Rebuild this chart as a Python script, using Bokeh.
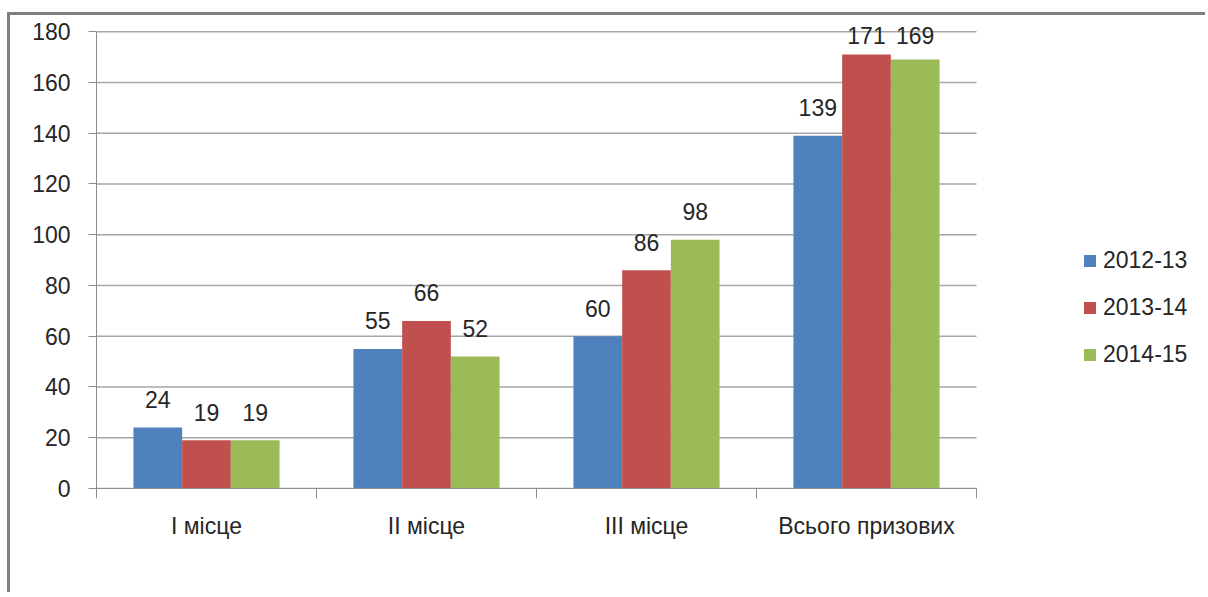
from bokeh.plotting import figure
from bokeh.models import ColumnDataSource, FixedTicker, Legend, LegendItem, LabelSet, Range1d
from bokeh.core.properties import value
from bokeh.embed import file_html
from bokeh.resources import INLINE

categories = ["I місце", "II місце", "III місце", "Всього призових"]
series = ["2012-13", "2013-14", "2014-15"]
v2012 = [24, 55, 60, 139]
v2013 = [19, 66, 86, 171]
v2014 = [19, 52, 98, 169]
values = [v2012, v2013, v2014]
colors = ["#4F81BD", "#C0504D", "#9BBB59"]
y_ticks = [0, 20, 40, 60, 80, 100, 120, 140, 160, 180]

FONT = "Liberation Sans"
FS = "23px"
GREY = "#8C8C8C"
TXT = "#262626"
Y_END = 184
N = len(categories)
CAT_PX = 220.0           # pixel width of one category slot
FRAME_W = 1104.0         # full frame width (plot area + legend area)
X_END = FRAME_W / CAT_PX

p = figure(width=1198, height=580, output_backend="svg", toolbar_location=None,
           x_range=Range1d(0, X_END), y_range=Range1d(0, Y_END),
           min_border_left=86, min_border_right=8, min_border_top=6, min_border_bottom=107)
p.styles = {"border-left": "3px solid #7F7F7F", "border-top": "3px solid #7F7F7F",
            "margin-top": "12px", "margin-left": "7px"}
p.outline_line_color = None
p.xgrid.grid_line_color = None
p.ygrid.grid_line_color = None

# horizontal gridlines limited to the category area
p.segment(x0=[0] * len(y_ticks), x1=[N] * len(y_ticks), y0=y_ticks, y1=y_ticks,
          line_color="#A6A6A6", line_width=1.5)

centers = [i + 0.5 for i in range(N)]
bar_w = 0.2214
frame_h = 467.0
px = frame_h / Y_END

renderers = []
for k, (vals, col) in enumerate(zip(values, colors)):
    xs = [c + (k - 1) * bar_w for c in centers]
    yoff = [min(28.0, 453.0 - v * px) for v in vals]
    src = ColumnDataSource(dict(x=xs, top=vals, txt=[str(v) for v in vals], yoff=yoff))
    r = p.vbar(x="x", top="top", width=bar_w, source=src, fill_color=col, line_color=None)
    renderers.append(r)
    ls = LabelSet(x="x", y="top", text="txt", y_offset="yoff", source=src,
                  text_align="center", text_baseline="middle",
                  text_font=value(FONT), text_font_size=value(FS), text_color=TXT)
    p.add_layout(ls)

# axes
p.yaxis.ticker = FixedTicker(ticks=y_ticks)
p.yaxis.bounds = (0, 180)
p.yaxis.major_label_text_font = FONT
p.yaxis.major_label_text_font_size = FS
p.yaxis.major_label_text_color = TXT
p.yaxis.axis_line_color = GREY
p.yaxis.major_tick_line_color = GREY
p.yaxis.major_tick_out = 8
p.yaxis.major_tick_in = 0
p.yaxis.minor_tick_line_color = None
p.yaxis.major_label_standoff = 18

p.xaxis.ticker = FixedTicker(ticks=centers, minor_ticks=list(range(N + 1)))
p.xaxis.bounds = (0, N)
p.xaxis.major_label_overrides = {c: lab for c, lab in zip(centers, categories)}
p.xaxis.major_label_text_font = FONT
p.xaxis.major_label_text_font_size = FS
p.xaxis.major_label_text_color = TXT
p.xaxis.axis_line_color = GREY
p.xaxis.major_tick_line_color = None
p.xaxis.major_tick_out = 0
p.xaxis.major_tick_in = 0
p.xaxis.minor_tick_line_color = GREY
p.xaxis.minor_tick_out = 10
p.xaxis.minor_tick_in = 0
p.xaxis.major_label_standoff = 14

legend = Legend(items=[LegendItem(label=s, renderers=[r]) for s, r in zip(series, renderers)],
                location=(986, 120), orientation="vertical",
                glyph_width=15, glyph_height=15, label_standoff=6,
                label_text_font=FONT, label_text_font_size=FS, label_text_color=TXT,
                label_height=23, spacing=20, padding=0, margin=0,
                border_line_color=None, background_fill_alpha=0)
p.add_layout(legend)

open("out.html", "w").write(file_html(p, INLINE))
